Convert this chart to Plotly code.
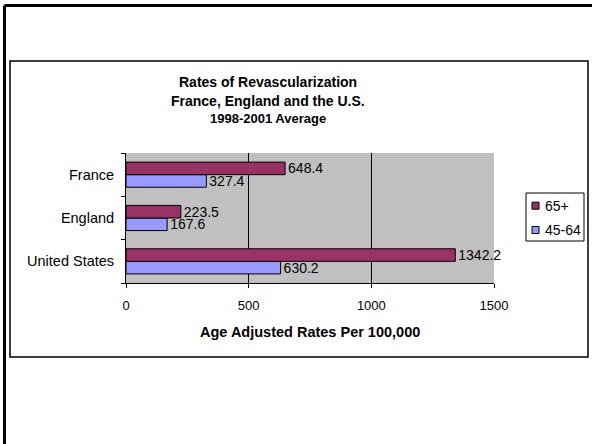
import plotly.graph_objects as go

# Data
countries = ["United States", "England", "France"]
series_names = ["45-64", "65+"]
rates_45_64 = [630.2, 167.6, 327.4]
rates_65_plus = [1342.2, 223.5, 648.4]
series_colors = ["#9999FF", "#993366"]
x_ticks = [0, 500, 1000, 1500]

W, H = 592, 444
L, R, T, B = 126, 98, 153, 161
PW, PH = W - L - R, H - T - B


def px(x):
    return (x - L) / PW


def py(y):
    return (H - B - y) / PH


FONT = "Liberation Sans, Arial, sans-serif"

fig = go.Figure()
for name, vals, color in zip(series_names, [rates_45_64, rates_65_plus], series_colors):
    fig.add_trace(go.Bar(
        y=countries, x=vals, orientation="h", name=name,
        marker=dict(color=color, line=dict(color="black", width=1)),
        text=[f"{v:.1f}" for v in vals], textposition="outside",
        textangle=0, constraintext="none", cliponaxis=False,
        textfont=dict(family=FONT, size=14, color="black"),
        showlegend=False,
    ))

shapes = [
    # outer frame (top and left edges)
    dict(type="line", xref="paper", yref="paper", x0=px(4.5), x1=px(600), y0=py(5.5), y1=py(5.5),
         line=dict(color="black", width=3)),
    dict(type="line", xref="paper", yref="paper", x0=px(4.5), x1=px(4.5), y0=py(5.5), y1=py(450),
         line=dict(color="black", width=3)),
    # chart frame
    dict(type="rect", xref="paper", yref="paper", x0=px(10), x1=px(588), y0=py(61), y1=py(357),
         line=dict(color="black", width=1.5)),
    # legend box
    dict(type="rect", xref="paper", yref="paper", x0=px(526), x1=px(584), y0=py(193), y1=py(241),
         line=dict(color="black", width=1), fillcolor="white"),
]

annotations = []
legend_rows = [("65+", series_colors[1], 205.7), ("45-64", series_colors[0], 230)]
for label, color, yc in legend_rows:
    shapes.append(dict(type="rect", xref="paper", yref="paper", x0=px(532), x1=px(539),
                       y0=py(yc + 3.5), y1=py(yc - 3.5), fillcolor=color,
                       line=dict(color="black", width=1)))
    annotations.append(dict(text=label, xref="paper", yref="paper", x=px(543), y=py(yc),
                            xanchor="left", yanchor="middle", showarrow=False,
                            font=dict(family=FONT, size=14, color="black")))

# title lines
titles = [("Rates of Revascularization", 14, 82), ("France, England and the U.S.", 14, 101),
          ("1998-2001 Average", 13, 118)]
for txt, size, yc in titles:
    annotations.append(dict(text=f"<b>{txt}</b>", xref="paper", yref="paper", x=px(268), y=py(yc),
                            xanchor="center", yanchor="middle", showarrow=False,
                            font=dict(family=FONT, size=size, color="black")))

annotations.append(dict(text="<b>Age Adjusted Rates Per 100,000</b>", xref="paper", yref="paper",
                        x=0.5, y=py(332), xanchor="center", yanchor="middle", showarrow=False,
                        font=dict(family=FONT, size=14.5, color="black")))

fig.update_layout(
    width=W, height=H,
    margin=dict(l=L, r=R, t=T, b=B),
    paper_bgcolor="white", plot_bgcolor="#C0C0C0",
    barmode="group", bargap=0.42, bargroupgap=0,
    shapes=shapes, annotations=annotations,
    font=dict(family=FONT, size=14, color="black"),
)
fig.update_xaxes(
    range=[0, 1500], tickvals=x_ticks, ticks="outside", ticklen=4, tickcolor="black",
    showline=True, linecolor="black", linewidth=1,
    showgrid=True, gridcolor="black", gridwidth=1, zeroline=False,
    tickfont=dict(family=FONT, size=13, color="black"), ticklabelstandoff=6,
)
fig.update_yaxes(
    type="category", categoryorder="array", categoryarray=countries,
    ticks="outside", ticklen=4, tickcolor="black", tickson="boundaries",
    showline=True, linecolor="black", linewidth=1, showgrid=False,
    tickfont=dict(family=FONT, size=14.5, color="black"), ticklabelstandoff=8,
)

fig.write_html("out.html")
